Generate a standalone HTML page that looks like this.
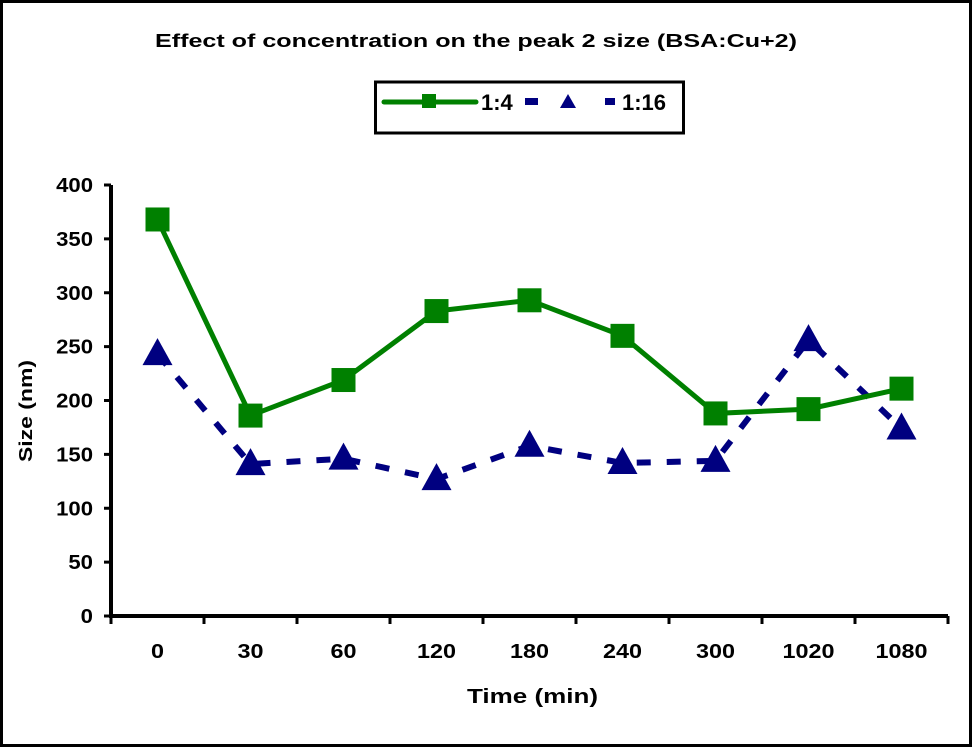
<!DOCTYPE html>
<html><head><meta charset="utf-8"><style>
body{margin:0;background:#fff}
svg{display:block;font-family:"Liberation Sans",sans-serif;font-weight:bold}
</style></head><body>
<svg id="chart" width="973" height="748" viewBox="0 0 973 748">
<rect x="1.5" y="1.5" width="969" height="744" fill="#fff" stroke="#000" stroke-width="3"/>
<text x="155" y="47" font-size="18" textLength="642" lengthAdjust="spacingAndGlyphs">Effect of concentration on the peak 2 size (BSA:Cu+2)</text>
<g id="legend">
<rect x="375.5" y="82" width="308" height="51" fill="#fff" stroke="#000" stroke-width="3"/>
<g>
<line x1="384" y1="102" x2="476" y2="102" stroke="#008000" stroke-width="5" stroke-linecap="round"/>
<rect x="422" y="94" width="14" height="14" fill="#008000"/>
<text x="481" y="110" font-size="22">1:4</text>
</g>
<g>
<rect x="525" y="98" width="13" height="7" fill="#000080"/>
<polygon points="568,94 560,108 576,108" fill="#000080"/>
<rect x="605" y="98" width="10" height="7" fill="#000080"/>
<text x="622" y="110" font-size="22">1:16</text>
</g>
</g>
<g id="axes"></g>
<g id="series"></g>
<text x="467" y="703" font-size="20" textLength="131" lengthAdjust="spacingAndGlyphs">Time (min)</text>
<text transform="translate(32,462) rotate(-90)" font-size="18" textLength="102" lengthAdjust="spacingAndGlyphs">Size (nm)</text>
</svg>
<script>
const categories=["0","30","60","120","180","240","300","1020","1080"];
const series14=[368,186,219,283,293,260,188,192,211];
const series116=[243,141,146,127,158,142,144,256,174];
const yTicks=[0,50,100,150,200,250,300,350,400];
const NS="http://www.w3.org/2000/svg";
const X0=111,CW=93,Y0=616,YMAX=400,YTOP=185;
function xs(i){return X0+CW*(i+0.5);}
function ys(v){return Y0-(Y0-YTOP)*v/YMAX;}
function mk(t,a,p){const e=document.createElementNS(NS,t);for(const k in a)e.setAttribute(k,a[k]);p.appendChild(e);return e;}
const ax=document.getElementById('axes');
let l=mk('line',{x1:X0,y1:YTOP,x2:X0,y2:Y0,stroke:'#000','stroke-width':4},ax);


l=mk('line',{x1:X0-2,y1:Y0,x2:X0+CW*categories.length,y2:Y0,stroke:'#000','stroke-width':4},ax);


yTicks.forEach(v=>{
 mk('line',{x1:X0-7,y1:ys(v),x2:X0,y2:ys(v),stroke:'#000','stroke-width':3},ax);
 const s=String(v);
 const t=mk('text',{x:X0-18-12.3*s.length,y:ys(v)+7,'font-size':20,textLength:12.3*s.length,lengthAdjust:'spacingAndGlyphs'},ax);t.textContent=s;
 
 
});
categories.forEach((c,i)=>{
 mk('line',{x1:X0+CW*i,y1:Y0,x2:X0+CW*i,y2:Y0+8,stroke:'#000','stroke-width':3},ax);
 const w=13*c.length;
 const t=mk('text',{x:xs(i)-w/2,y:658,'font-size':20,textLength:w,lengthAdjust:'spacingAndGlyphs'},ax);t.textContent=c;
 
 
});
mk('line',{x1:X0+CW*categories.length,y1:Y0,x2:X0+CW*categories.length,y2:Y0+8,stroke:'#000','stroke-width':3},ax);
const sg=document.getElementById('series');
let p=mk('polyline',{points:series116.map((v,i)=>xs(i)+','+ys(v)).join(' '),fill:'none',stroke:'#000080','stroke-width':6,'stroke-dasharray':'14 16'},sg);


series116.forEach((v,i)=>{
 const x=xs(i),y=ys(v);
 const m=mk('polygon',{points:`${x},${y-16} ${x-15},${y+11} ${x+15},${y+11}`,fill:'#000080'},sg);
 
 
});
p=mk('polyline',{points:series14.map((v,i)=>xs(i)+','+ys(v)).join(' '),fill:'none',stroke:'#008000','stroke-width':5},sg);


series14.forEach((v,i)=>{
 const m=mk('rect',{x:xs(i)-12,y:ys(v)-12,width:24,height:24,fill:'#008000'},sg);
 
 
});
</script>
</body></html>
